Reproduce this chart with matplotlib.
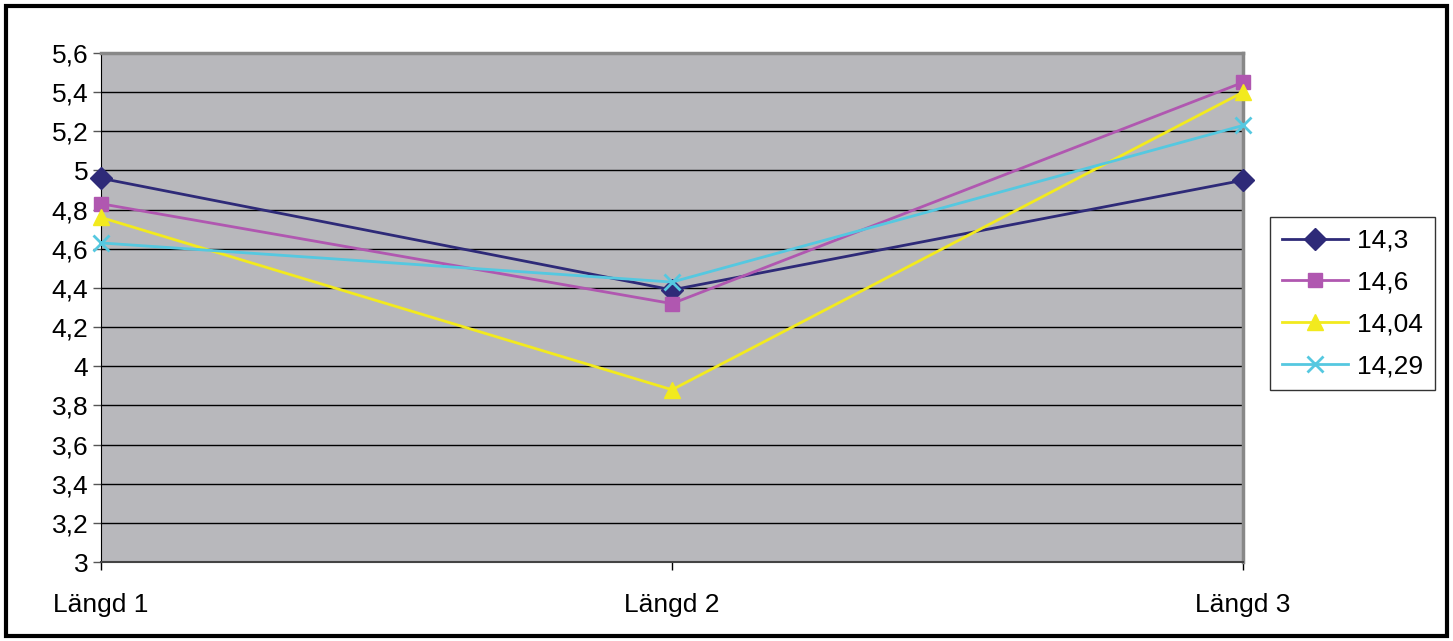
import matplotlib.pyplot as plt
from matplotlib.patches import Rectangle

plt.rcParams['font.family'] = ['Liberation Sans', 'DejaVu Sans']

categories = ["Längd 1", "Längd 2", "Längd 3"]
series_names = ["14,3", "14,6", "14,04", "14,29"]
s_143 = [4.96, 4.39, 4.95]
s_146 = [4.83, 4.32, 5.45]
s_1404 = [4.76, 3.88, 5.40]
s_1429 = [4.63, 4.43, 5.23]
yticks = [3.0, 3.2, 3.4, 3.6, 3.8, 4.0, 4.2, 4.4, 4.6, 4.8, 5.0, 5.2, 5.4, 5.6]
ytick_labels = ["3", "3,2", "3,4", "3,6", "3,8", "4", "4,2", "4,4", "4,6", "4,8", "5", "5,2", "5,4", "5,6"]

styles = [
    ("#2e2a78", "D", 11),
    ("#b057b0", "s", 10),
    ("#f2ea1e", "^", 12),
    ("#55c8e0", "x", 12),
]

fig = plt.figure(figsize=(14.53, 6.41), dpi=100)
ax = fig.add_axes([0.0695, 0.1232, 0.786, 0.7941])
ax.set_facecolor("#b8b8bc")

x = list(range(len(categories)))
for name, vals, (col, mk, ms) in zip(series_names, [s_143, s_146, s_1404, s_1429], styles):
    kw = dict(markeredgewidth=2) if mk == "x" else dict(markeredgecolor=col)
    ax.plot(x, vals, color=col, lw=2, marker=mk, ms=ms, label=name,
            clip_on=False, zorder=3, **kw)

ax.set_xlim(0, 2)
ax.set_ylim(3, 5.6)
ax.set_yticks(yticks)
ax.set_yticklabels(ytick_labels)
ax.set_xticks(x)
ax.set_xticklabels(categories)
ax.yaxis.grid(True, color="black", lw=1)
ax.set_axisbelow(True)
ax.tick_params(axis="y", labelsize=19, length=6, width=1, pad=3, direction="out", color="#555555")
ax.tick_params(axis="x", labelsize=19, length=6, width=1, pad=16, direction="out")

for side in ["top", "right"]:
    ax.spines[side].set_color("#888888")
    ax.spines[side].set_linewidth(2.5)
ax.spines["left"].set_color("black")
ax.spines["bottom"].set_color("#444444")
ax.spines["bottom"].set_linewidth(1.5)

leg = ax.legend(loc="upper left", bbox_to_anchor=(1.0237, 0.678), borderaxespad=0,
                fontsize=19, frameon=True, fancybox=False, edgecolor="black",
                borderpad=0.45, handlelength=2.5, labelspacing=0.68, handletextpad=0.35)
leg.get_frame().set_linewidth(1)

fig.patches.append(Rectangle((0.004, 0.008), 0.992, 0.982, transform=fig.transFigure,
                             fill=False, edgecolor="black", lw=3))

fig.savefig("out.png", dpi=100)
